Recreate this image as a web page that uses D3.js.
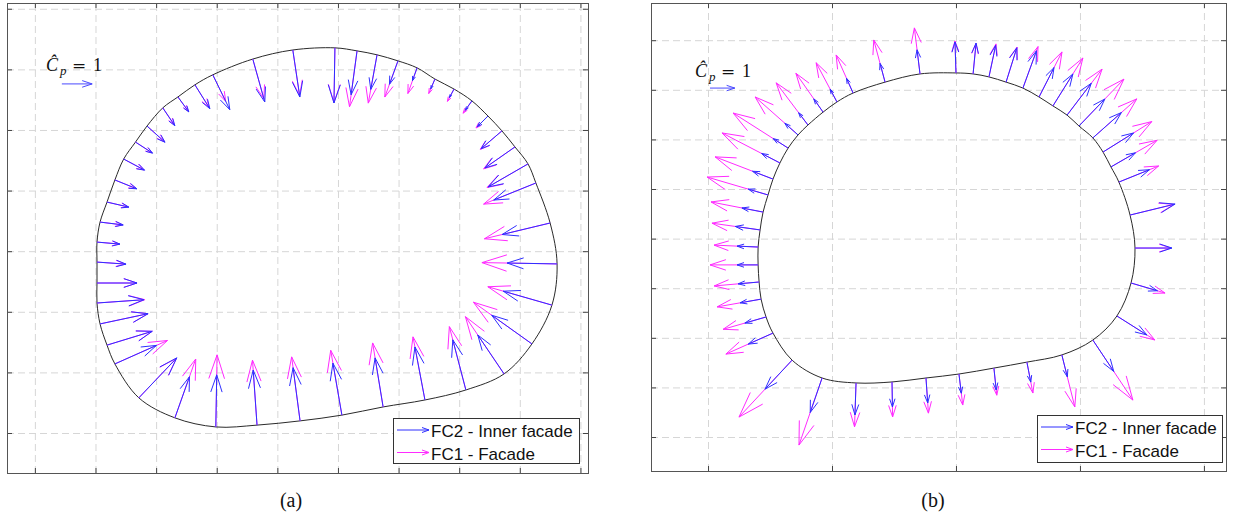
<!DOCTYPE html>
<html>
<head>
<meta charset="utf-8">
<script src="https://cdn.jsdelivr.net/npm/d3@7"></script>
<style>
  body { margin: 0; background: #fff; }
  svg { display: block; }
</style>
</head>
<body>
<svg id="fig" width="1235" height="523"></svg>
<script>

// ---- panel (a): pressure taps around the outline (m), arrow direction (deg), Cp of both configurations
const tapXA = [ 9.90, 8.51, 7.19, 5.87, 5.28, 4.72, 4.22, 3.70, 3.32, 2.93, 2.64, 2.38, 2.15, 2.05, 2.05, 2.05,
                2.05, 2.15, 2.38, 2.64, 3.43, 4.62, 5.97, 7.33, 8.75, 10.13, 11.49, 12.87, 14.22, 15.48, 16.40,
                17.06, 17.23, 17.00, 16.53, 16.27, 15.84, 15.41, 14.95, 14.42, 13.83, 13.20, 12.61, 11.98, 11.29, 10.63 ];
const tapYA = [ 12.71, 12.64, 12.34, 11.82, 11.49, 11.09, 10.73, 10.13, 9.60, 9.04, 8.35, 7.62, 6.96, 6.30, 5.64, 4.95,
                4.29, 3.60, 2.90, 2.28, 1.16, 0.50, 0.20, 0.26, 0.40, 0.59, 0.86, 1.09, 1.42, 1.95, 2.94,
                4.22, 5.58, 6.93, 8.25, 8.88, 9.44, 9.97, 10.46, 10.96, 11.35, 11.68, 12.05, 12.28, 12.48, 12.61 ];
const dirA   = [ -91, -81.5, -74.4, -64, -58, -54, -56, -42, -33, -28, -22, -13, -7, -5, -4, 0,
                 4, 12, 17, 24, 46.5, 70.5, 89, 94, 97.5, 99.8, 99.3, 100.7, 104.6, 124, 144.5,
                 164, 179, 193.5, 202, 210, 215, 220.6, 225, 234.5, 241.7, 246.8, 250.3, 250, 259.7, 262.3 ];
const fc2A   = [ 1.82, 1.57, 1.47, 1.28, 0.93, 0.61, 0.71, 0.80, 0.67, 0.78, 0.78, 0.74, 0.77, 0.76, 0.96, 1.32,
                 1.55, 1.62, 1.56, 1.50, 1.82, 1.44, 1.72, 1.82, 1.77, 1.74, 1.64, 1.78, 1.71, 1.55, 1.63,
                 1.67, 1.65, 1.63, 1.50, 1.52, 1.21, 0.91, 0.50, 0.38, 0.32, 0.35, 0.45, 0.82, 1.16, 1.46 ];
const fc1A   = [ 1.80, 1.52, 1.36, 0.97, 0.88, 0.58, 0.68, 0.77, 0.65, 0.76, 0.75, 0.72, 0.75, 0.74, 0.93, 1.32,
                 1.58, 1.62, 1.56, 1.90, 1.80, 2.06, 2.38, 2.15, 2.13, 2.17, 2.14, 2.12, 2.16, 2.28, 2.37,
                 2.20, 2.48, 2.23, 1.86, 1.56, 1.26, 0.94, 0.56, 0.50, 0.46, 0.52, 0.90, 1.27, 1.62, 1.86 ];

// ---- panel (b)
const tapXB = [ 0.00, -1.45, -2.86, -4.15, -4.80, -5.36, -5.97, -6.37, -6.77, -7.10, -7.38, -7.58, -7.78, -7.90, -7.98, -7.98,
                -7.94, -7.86, -7.66, -7.38, -6.61, -5.40, -4.03, -2.58, -1.21, 0.12, 1.53, 2.86, 4.27, 5.52, 6.49,
                7.06, 7.22, 7.02, 6.57, 6.25, 5.93, 5.52, 4.96, 4.48, 3.91, 3.35, 2.70, 2.02, 1.33, 0.69 ];
const tapYB = [ 14.68, 14.64, 14.31, 13.87, 13.51, 13.10, 12.58, 12.18, 11.65, 11.05, 10.40, 9.76, 9.07, 8.35, 7.66, 6.94,
                6.25, 5.56, 4.84, 4.19, 3.10, 2.38, 2.18, 2.22, 2.38, 2.54, 2.78, 3.02, 3.31, 3.91, 4.88,
                6.21, 7.62, 8.95, 10.28, 10.89, 11.49, 12.06, 12.54, 12.98, 13.35, 13.71, 14.07, 14.31, 14.52, 14.64 ];
const dirB   = [ 91.8, 97, 105, 114, 118, 125, 127, 138.5, 147.5, 152.6, 159, 163.6, 169, 172, 177.5, 180,
                 185, 190, 196, 204, 227, 251, 268, 271, 274, 277, 276, 281, 284, 303.7, 327.7,
                 343.6, 0, 13.7, 22, 30, 32, 41.6, 46.2, 52.7, 58, 63, 70, 72.6, 78, 84.5 ];
const fc2B   = [ 1.25, 0.98, 0.78, 0.65, 0.58, 0.65, 0.62, 0.71, 0.71, 0.83, 0.88, 0.83, 0.87, 1.01, 0.85, 0.85,
                 0.85, 0.86, 0.89, 1.09, 1.60, 1.47, 1.29, 1.01, 1.01, 0.78, 0.89, 0.82, 0.91, 1.52, 1.43,
                 1.11, 1.49, 1.87, 1.33, 1.14, 1.45, 1.54, 1.51, 1.61, 1.52, 1.33, 1.60, 1.45, 1.30, 1.25 ];
const fc1B   = [ 1.29, 1.87, 1.76, 1.68, 1.79, 1.91, 2.13, 2.31, 2.63, 2.63, 2.50, 2.56, 2.14, 1.96, 1.78, 1.94,
                 1.82, 1.80, 1.80, 2.08, 3.14, 2.86, 1.77, 1.41, 1.42, 1.26, 1.10, 1.27, 2.16, 2.91, 1.81,
                 1.43, 1.45, 1.82, 1.73, 2.15, 2.32, 2.37, 2.62, 2.33, 2.28, 2.04, 1.78, 1.48, 1.36, 1.22 ];

const xTicksA = [0, 2, 4, 6, 8, 10, 12, 14, 16, 18];
const yTicksA = [0, 2, 4, 6, 8, 10, 12, 14];
const xTicksB = [-10, -5, 0, 5, 10];
const yTicksB = [0, 2, 4, 6, 8, 10, 12, 14, 16];

const seriesNames = ["FC2 - Inner facade", "FC1 - Facade"];
const colFC2 = "#2f2fff", colFC1 = "#ff2bff";

const panels = [
  { tapX: tapXA, tapY: tapYA, dir: dirA, fc2: fc2A, fc1: fc1A, xTicks: xTicksA, yTicks: yTicksA,
    frame: { left: 7, right: 588, top: 3, bottom: 473 }, xDomain: [-0.92, 18.25], yDomain: [-1.32, 14.19],
    key: { x: 0.89, y: 11.52, textX: 46, textY: 71 },
    legend: { x: 393, y: 418, w: 186, h: 45 }, caption: { text: "(a)", x: 291, y: 507 } },
  { tapX: tapXB, tapY: tapYB, dir: dirB, fc2: fc2B, fc1: fc1B, xTicks: xTicksB, yTicks: yTicksB,
    frame: { left: 651, right: 1226, top: 3, bottom: 471 }, xDomain: [-12.30, 10.89], yDomain: [-1.37, 17.50],
    key: { x: -9.92, y: 14.07, textX: 695, textY: 77 },
    legend: { x: 1037, y: 415, w: 185, h: 47 }, caption: { text: "(b)", x: 933, y: 507 } }
];

let svg = d3.select("#fig");
svg.append("rect").attr("width", 1235).attr("height", 523).attr("fill", "#fff");

// matlab quiver style arrowhead
const alpha = 0.33, beta = 0.33;

function quiver_path( sx, sy, bx, by, ang, cp ){
    let u = cp*Math.cos(ang*Math.PI/180), v = cp*Math.sin(ang*Math.PI/180);
    let tx = bx+u, ty = by+v;
    let h1 = [ tx - alpha*(u + beta*v), ty - alpha*(v - beta*u) ];
    let h2 = [ tx - alpha*(u - beta*v), ty - alpha*(v + beta*u) ];
    return "M" + sx(bx) + "," + sy(by) + "L" + sx(tx) + "," + sy(ty)
         + "M" + sx(h1[0]) + "," + sy(h1[1]) + "L" + sx(tx) + "," + sy(ty) + "L" + sx(h2[0]) + "," + sy(h2[1]);
}

function legend_arrow( g, x0, x1, y, col ){
    g.append("path")
        .attr("d", "M"+x0+","+y+"L"+x1+","+y+"M"+(x1-7)+","+(y-2.5)+"L"+x1+","+y+"L"+(x1-7)+","+(y+2.5))
        .attr("fill", "none").attr("stroke", col).attr("stroke-width", 1);
}

function draw_panel( p ){
    let f = p.frame;
    let sx = d3.scaleLinear().domain(p.xDomain).range([f.left, f.right]);
    let sy = d3.scaleLinear().domain(p.yDomain).range([f.bottom, f.top]);
    let g = svg.append("g");

    // dashed grid
    g.append("g").attr("transform", "translate(0," + f.bottom + ")")
        .call(d3.axisBottom(sx).tickValues(p.xTicks).tickSize(-(f.bottom - f.top)).tickFormat(""))
        .call(a => a.select(".domain").remove())
        .selectAll("line").attr("stroke", "#d6d6d6").attr("stroke-dasharray", "7,4");
    g.append("g").attr("transform", "translate(" + f.left + ",0)")
        .call(d3.axisLeft(sy).tickValues(p.yTicks).tickSize(-(f.right - f.left)).tickFormat(""))
        .call(a => a.select(".domain").remove())
        .selectAll("line").attr("stroke", "#d6d6d6").attr("stroke-dasharray", "7,4");

    // outline through the taps
    let pts = p.tapX.map((x, i) => [x, p.tapY[i]]);
    g.append("path")
        .attr("d", d3.line().x(d => sx(d[0])).y(d => sy(d[1])).curve(d3.curveCatmullRomClosed)(pts))
        .attr("fill", "none").attr("stroke", "#2a2a2a").attr("stroke-width", 1);

    // FC1 first, FC2 drawn on top
    [[p.fc1, colFC1], [p.fc2, colFC2]].forEach( function(s){
        g.append("g").selectAll("path")
            .data(pts)
            .enter().append("path")
            .attr("d", (d, i) => quiver_path(sx, sy, d[0], d[1], p.dir[i], s[0][i]))
            .attr("fill", "none").attr("stroke", s[1]).attr("stroke-width", 1);
    });

    // frame and inward ticks
    let tk = [
        [d3.axisBottom(sx).tickValues(p.xTicks), "translate(0," + f.bottom + ")"],
        [d3.axisTop(sx).tickValues(p.xTicks), "translate(0," + f.top + ")"],
        [d3.axisLeft(sy).tickValues(p.yTicks), "translate(" + f.left + ",0)"],
        [d3.axisRight(sy).tickValues(p.yTicks), "translate(" + f.right + ",0)"]
    ];
    tk.forEach( function(t){
        g.append("g").attr("transform", t[1])
            .call(t[0].tickSize(-5).tickFormat(""))
            .call(a => a.select(".domain").remove())
            .selectAll("line").attr("stroke", "#444");
    });
    g.append("rect")
        .attr("x", f.left + 0.5).attr("y", f.top + 0.5)
        .attr("width", f.right - f.left).attr("height", f.bottom - f.top)
        .attr("fill", "none").attr("stroke", "#555").attr("stroke-width", 1);

    // reference arrow  C^_p = 1
    g.append("path")
        .attr("d", quiver_path(sx, sy, p.key.x, p.key.y, 0, 1))
        .attr("fill", "none").attr("stroke", "#4a4aff").attr("stroke-width", 1);
    let kt = g.append("text")
        .attr("font-family", "Liberation Serif, Times New Roman, serif")
        .attr("font-size", "18px").attr("fill", "#111");
    kt.append("tspan").attr("x", p.key.textX).attr("y", p.key.textY).attr("font-style", "italic").text("\u0108");
    kt.append("tspan").attr("x", p.key.textX + 14).attr("y", p.key.textY + 4)
        .attr("font-style", "italic").attr("font-size", "13px").text("p");
    kt.append("tspan").attr("x", p.key.textX + 26).attr("y", p.key.textY)
        .attr("font-family", "DejaVu Serif, serif").attr("font-size", "17px").text("=");
    kt.append("tspan").attr("x", p.key.textX + 47).attr("y", p.key.textY).text("1");

    // legend
    let L = p.legend;
    let lg = g.append("g");
    lg.append("rect")
        .attr("x", L.x + 0.5).attr("y", L.y + 0.5).attr("width", L.w).attr("height", L.h)
        .attr("fill", "#fff").attr("stroke", "#333").attr("stroke-width", 1);
    [colFC2, colFC1].forEach( function(c, i){
        let yy = L.y + 12 + i*22.5;
        legend_arrow( lg, L.x + 4, L.x + 36, yy, c );
        lg.append("text")
            .attr("x", L.x + 38).attr("y", yy + 7)
            .attr("font-family", "Liberation Sans, Arial, sans-serif")
            .attr("font-size", "17px").attr("fill", "#111")
            .text(seriesNames[i]);
    });

    svg.append("text")
        .attr("x", p.caption.x).attr("y", p.caption.y)
        .attr("text-anchor", "middle")
        .attr("font-family", "Liberation Serif, Times New Roman, serif")
        .attr("font-size", "20px").attr("fill", "#111")
        .text(p.caption.text);
}

panels.forEach( draw_panel );

</script>
</body>
</html>
